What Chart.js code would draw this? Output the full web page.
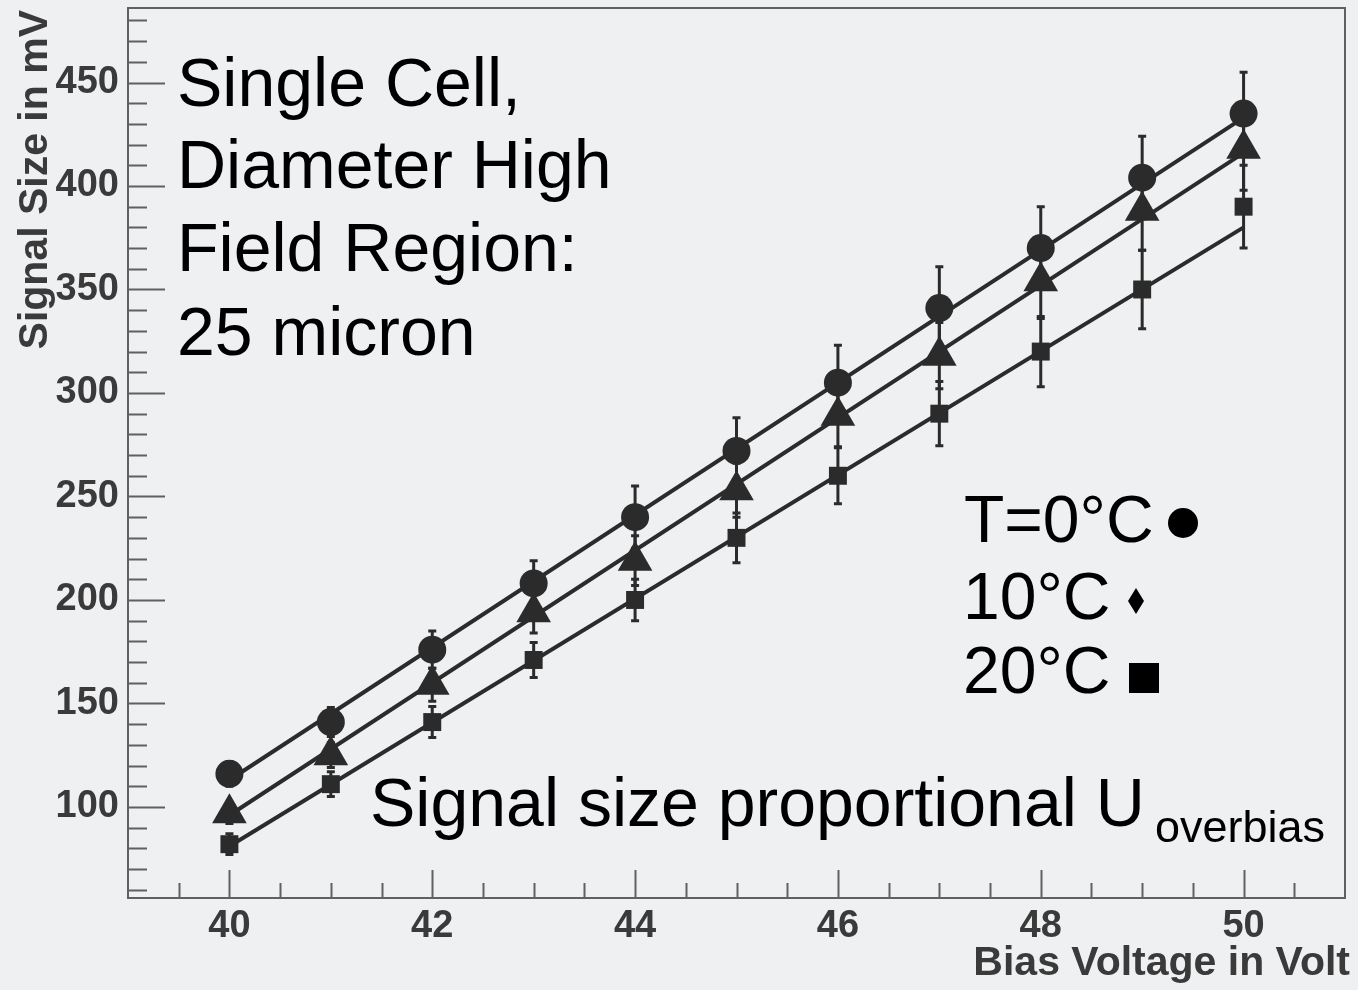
<!DOCTYPE html>
<html>
<head>
<meta charset="utf-8">
<title>Signal size vs bias voltage</title>
<script src="https://cdn.jsdelivr.net/npm/chart.js@4.4.0/dist/chart.umd.min.js"></script>
<style>
  html, body { margin: 0; padding: 0; background: #eff0f2; }
  canvas { display: block; }
</style>
</head>
<body>
<canvas id="my-chart" width="1358" height="990"></canvas>
<script>
'use strict';

// *** DATA ***

let biasVolts = [40, 41, 42, 43, 44, 45, 46, 47, 48, 49, 50];

let signal0C = [116, 141, 176, 208, 240, 272, 305, 341, 370, 404, 435];
let err0C = [6, 7, 9, 11, 15, 16, 18, 20, 20, 20, 20];

let signal10C = [97, 125, 159, 194, 219, 253, 289, 318, 354, 388, 418];
let err10C = [5, 6, 8, 10, 12, 13, 15, 16, 18, 19, 20];

let signal20C = [82, 111, 141, 171, 200, 230, 260, 290, 320, 350, 390];
let err20C = [5, 6, 7.5, 8.5, 10, 12, 13.5, 15.5, 17, 19, 20];

// linear fits, read at both ends
let fitVolts = [40, 50];
let fit0C = [113, 433];
let fit10C = [96, 416];
let fit20C = [81, 380];

let xTickLabels = [40, 42, 44, 46, 48, 50];
let yTickLabels = [100, 150, 200, 250, 300, 350, 400, 450];

// *** HELPERS ***

const INK = '#2b2b2b';
const FONT = '"Liberation Sans", Arial, Helvetica, sans-serif';

function toPoints(xs, ys, errs) {
  let pts = [];
  for (let i = 0; i < xs.length; i++) {
    pts.push({ x: xs[i], y: ys[i], err: errs ? errs[i] : 0 });
  }
  return pts;
}

function markerSet(label, ys, errs, style, radius) {
  return {
    label: label,
    data: toPoints(biasVolts, ys, errs),
    showLine: false,
    pointStyle: style,
    pointRadius: radius,
    pointBackgroundColor: INK,
    pointBorderWidth: 0,
    order: 0
  };
}

function fitSet(label, ys) {
  return {
    label: label,
    data: toPoints(fitVolts, ys),
    showLine: true,
    borderColor: INK,
    borderWidth: 4,
    pointRadius: 0,
    order: 1
  };
}

// *** PLUGINS ***

let bgPlugin = {
  id: 'bg',
  beforeDraw(chart) {
    let ctx = chart.ctx;
    ctx.save();
    ctx.fillStyle = '#eff0f2';
    ctx.fillRect(0, 0, chart.width, chart.height);
    ctx.restore();
  }
};

let errorBarPlugin = {
  id: 'errorBars',
  beforeDatasetsDraw(chart) {
    let ctx = chart.ctx;
    let xs = chart.scales.x;
    let ys = chart.scales.y;
    ctx.save();
    ctx.strokeStyle = INK;
    ctx.lineWidth = 3;
    chart.data.datasets.forEach(function(ds) {
      if (ds.showLine) return;
      ds.data.forEach(function(p) {
        let px = xs.getPixelForValue(p.x);
        let top = ys.getPixelForValue(p.y + p.err);
        let bot = ys.getPixelForValue(p.y - p.err);
        ctx.beginPath();
        ctx.moveTo(px, top);
        ctx.lineTo(px, bot);
        ctx.moveTo(px - 4, top);
        ctx.lineTo(px + 4, top);
        ctx.moveTo(px - 4, bot);
        ctx.lineTo(px + 4, bot);
        ctx.stroke();
      });
    });
    ctx.restore();
  }
};

let framePlugin = {
  id: 'frame',
  afterDraw(chart) {
    let ctx = chart.ctx;
    let a = chart.chartArea;
    let xs = chart.scales.x;
    let ys = chart.scales.y;
    ctx.save();
    ctx.strokeStyle = '#606060';
    ctx.lineWidth = 2;
    ctx.strokeRect(a.left, a.top, a.right - a.left, a.bottom - a.top);

    ctx.beginPath();
    // y ticks, inside the frame
    for (let v = 60; v <= 480; v += 10) {
      let py = Math.round(ys.getPixelForValue(v)) + 0.5;
      let len = yTickLabels.includes(v) ? 37 : 19;
      ctx.moveTo(a.left, py);
      ctx.lineTo(a.left + len, py);
    }
    // x ticks
    for (let v = 39.5; v <= 50.5; v += 0.5) {
      let px = Math.round(xs.getPixelForValue(v)) + 0.5;
      let len = xTickLabels.includes(v) ? 28 : 15;
      ctx.moveTo(px, a.bottom);
      ctx.lineTo(px, a.bottom - len);
    }
    ctx.stroke();
    ctx.restore();
  }
};

let textPlugin = {
  id: 'texts',
  afterDraw(chart) {
    let ctx = chart.ctx;
    ctx.save();

    // axis titles
    ctx.fillStyle = '#3a3a3a';
    ctx.font = 'bold 41px ' + FONT;
    ctx.textBaseline = 'alphabetic';
    ctx.textAlign = 'right';
    ctx.fillText('Bias Voltage in Volt', 1350, 975);

    ctx.save();
    ctx.translate(47, 10);
    ctx.rotate(-Math.PI / 2);
    ctx.fillText('Signal Size in mV', 0, 0);
    ctx.restore();

    // annotation block, top left
    ctx.fillStyle = '#000';
    ctx.textAlign = 'left';
    ctx.font = '68px ' + FONT;
    let lines = ['Single Cell,', 'Diameter High', 'Field Region:', '25 micron'];
    let baselines = [106, 188, 271, 355];
    for (let i = 0; i < lines.length; i++) {
      ctx.fillText(lines[i], 177, baselines[i]);
    }

    // bottom note with subscript
    ctx.fillText('Signal size proportional U', 370, 826);
    ctx.font = '45px ' + FONT;
    ctx.fillText('overbias', 1155, 842);

    // temperature key
    ctx.font = '66px ' + FONT;
    ctx.fillText('T=0\u00B0C', 964, 542);
    ctx.fillText('10\u00B0C', 963, 619);
    ctx.fillText('20\u00B0C', 963, 693);

    ctx.beginPath();
    ctx.arc(1183, 523, 15, 0, Math.PI * 2);
    ctx.fill();

    ctx.beginPath();
    ctx.moveTo(1136, 588);
    ctx.lineTo(1144, 601);
    ctx.lineTo(1136, 614);
    ctx.lineTo(1128, 601);
    ctx.closePath();
    ctx.fill();

    ctx.fillRect(1129, 663, 30, 30);

    ctx.restore();
  }
};

// *** CHART ***

let canvasElem = document.getElementById('my-chart');

let tickFont = { family: FONT, size: 38, weight: 'bold' };

new Chart(canvasElem, {
  type: 'scatter',
  data: {
    datasets: [
      markerSet('T=0\u00B0C', signal0C, err0C, 'circle', 14),
      markerSet('10\u00B0C', signal10C, err10C, 'triangle', 20),
      markerSet('20\u00B0C', signal20C, err20C, 'rect', 12.7),
      fitSet('fit 0\u00B0C', fit0C),
      fitSet('fit 10\u00B0C', fit10C),
      fitSet('fit 20\u00B0C', fit20C)
    ]
  },
  options: {
    responsive: false,
    animation: false,
    layout: { autoPadding: false, padding: { top: 8, right: 13, left: 0, bottom: 0 } },
    plugins: {
      legend: { display: false },
      tooltip: { enabled: false }
    },
    scales: {
      x: {
        type: 'linear',
        min: 39,
        max: 51,
        afterBuildTicks: function(axis) {
          axis.ticks = xTickLabels.map(function(v) { return { value: v }; });
        },
        afterFit: function(axis) {
          axis.height = 92;
          axis.paddingLeft = 0;
          axis.paddingRight = 0;
        },
        grid: { display: false, drawTicks: false },
        border: { display: false },
        ticks: { font: tickFont, color: '#3a3a3a', padding: 6, maxRotation: 0, autoSkip: false }
      },
      y: {
        type: 'linear',
        min: 56,
        max: 486,
        afterBuildTicks: function(axis) {
          axis.ticks = yTickLabels.map(function(v) { return { value: v }; });
        },
        afterFit: function(axis) {
          axis.width = 128;
          axis.paddingTop = 0;
          axis.paddingBottom = 0;
        },
        grid: { display: false, drawTicks: false },
        border: { display: false },
        ticks: { font: tickFont, color: '#3a3a3a', padding: 9, autoSkip: false }
      }
    }
  },
  plugins: [bgPlugin, errorBarPlugin, framePlugin, textPlugin]
});
</script>
</body>
</html>
